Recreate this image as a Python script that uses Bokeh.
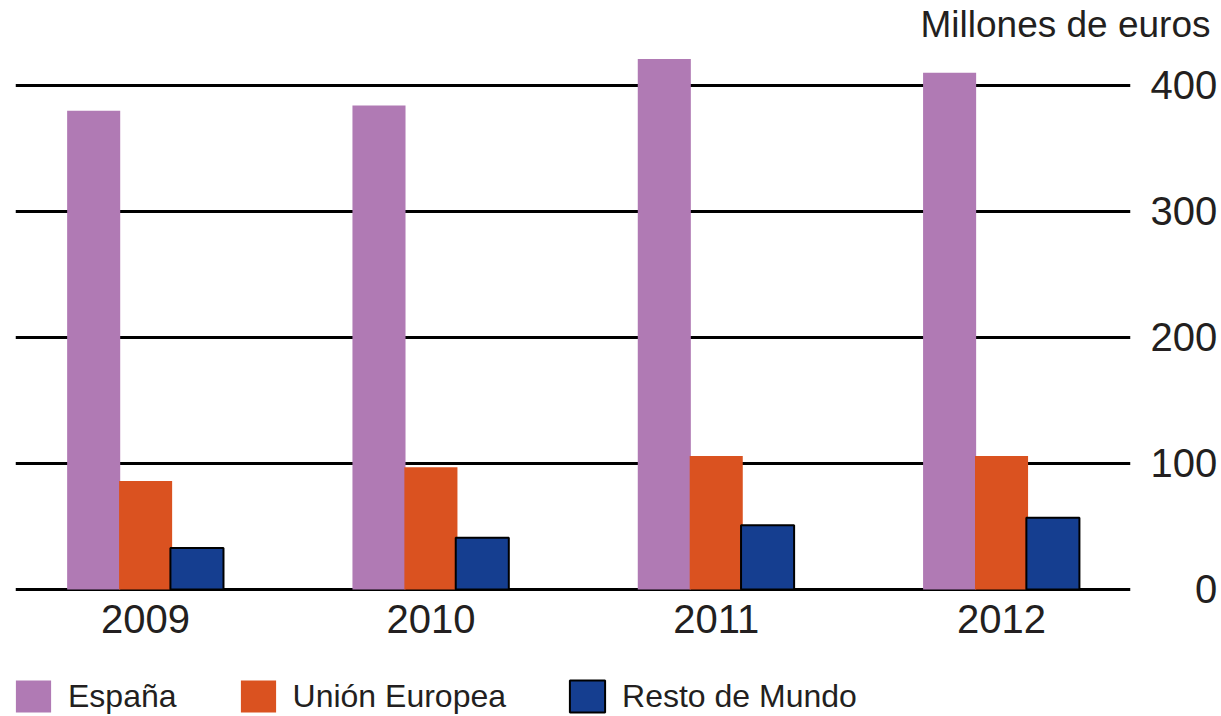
from bokeh.plotting import figure
from bokeh.models import (ColumnDataSource, Range1d, LinearAxis, FixedTicker,
                          Legend, LegendItem, Title)
from bokeh.transform import dodge
from bokeh.embed import file_html
from bokeh.resources import INLINE

years = ["2009", "2010", "2011", "2012"]
espana = [380, 384, 421, 410]
union_europea = [86, 97, 106, 106]
resto_mundo = [33, 41, 51, 57]
y_ticks = [0, 100, 200, 300, 400]
y_tick_labels = ["\u2007\u20070", "100", "200", "300", "400"]
unit_label = "Millones de euros"
series_names = ["España", "Unión Europea", "Resto de Mundo"]

FONT = "Liberation Sans"
TXT = "#231f20"

src = ColumnDataSource(dict(x=list(range(len(years))), es=espana,
                            ue=union_europea, rm=resto_mundo))

p = figure(width=1220, height=716, output_backend="svg",
           toolbar_location=None,
           x_range=Range1d(-0.456, 3.452), y_range=Range1d(-100.8, 431.7),
           y_axis_location=None, min_border_left=15, min_border_right=85,
           min_border_top=42, min_border_bottom=0)
p.outline_line_color = None
p.background_fill_color = "white"
p.border_fill_color = "white"

bw = 0.186
r1 = p.vbar(x=dodge("x", -0.182), top="es", width=bw, source=src,
            fill_color="#b07ab4", line_color=None)
r2 = p.vbar(x=dodge("x", 0.0), top="ue", width=bw, source=src,
            fill_color="#da5220", line_color=None)
r3 = p.vbar(x=dodge("x", 0.18), top="rm", width=bw, source=src,
            fill_color="#153e90", line_color="black", line_width=2)

# x axis, pinned at zero
xa = p.xaxis[0]
xa.fixed_location = 0
xa.ticker = FixedTicker(ticks=list(range(len(years))))
xa.major_label_overrides = {i: y for i, y in enumerate(years)}
xa.axis_line_color = None
xa.major_tick_line_color = None
xa.minor_tick_line_color = None
xa.major_label_text_font = FONT
xa.major_label_text_font_size = "40px"
xa.major_label_text_color = TXT
xa.major_label_standoff = 10
p.xgrid.visible = False

# right y axis
ya = LinearAxis(ticker=FixedTicker(ticks=y_ticks))
ya.major_label_overrides = dict(zip(y_ticks, y_tick_labels))
ya.axis_line_color = None
ya.major_tick_line_color = None
ya.minor_tick_line_color = None
ya.major_label_text_font = FONT
ya.major_label_text_font_size = "40px"
ya.major_label_text_color = TXT
ya.major_label_standoff = 14
p.add_layout(ya, "right")
p.ygrid.ticker = FixedTicker(ticks=y_ticks)
p.ygrid.grid_line_color = "black"
p.ygrid.grid_line_width = 3

# title
p.title = Title(text=unit_label, align="right", text_font=FONT,
                text_font_size="37px", text_font_style="normal",
                text_color=TXT, offset=-80, standoff=2)

legend = Legend(items=[LegendItem(label=series_names[0], renderers=[r1]),
                       LegendItem(label=series_names[1], renderers=[r2]),
                       LegendItem(label=series_names[2], renderers=[r3])],
                orientation="horizontal", location=(-4, 0),
                glyph_width=44, glyph_height=40, label_standoff=13, spacing=59,
                label_text_font=FONT, label_text_font_size="32px",
                label_text_color=TXT, border_line_color=None,
                background_fill_alpha=0, padding=0, margin=0)
p.add_layout(legend, "center")

open("out.html", "w").write(file_html(p, INLINE))
